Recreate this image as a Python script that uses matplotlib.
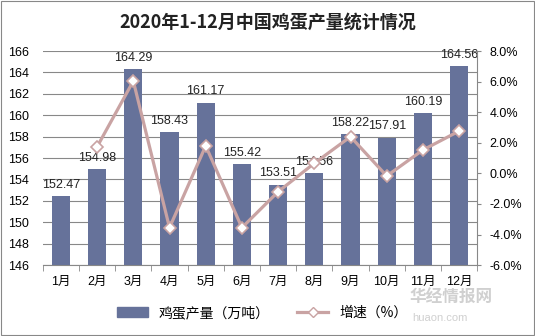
import numpy as np
import matplotlib.pyplot as plt
from matplotlib.lines import Line2D
from matplotlib.patches import Patch

plt.rcParams['font.family'] = ['Liberation Sans', 'Noto Sans CJK SC', 'DejaVu Sans']

months = ['1月', '2月', '3月', '4月', '5月', '6月', '7月', '8月', '9月', '10月', '11月', '12月']
output = [152.47, 154.98, 164.29, 158.43, 161.17, 155.42, 153.51, 154.56, 158.22, 157.91, 160.19, 164.56]
growth = [np.nan, 1.74, 6.04, -3.55, 1.8, -3.55, -1.2, 0.66, 2.4, -0.17, 1.53, 2.77]

bar_color = '#66729a'
line_color = '#c9a3a3'

fig = plt.figure(figsize=(5.35, 3.36), dpi=100)
fig.patches.append(plt.Rectangle((0.002, 0.003), 0.996, 0.994, transform=fig.transFigure,
                                 fill=False, edgecolor='#888888', linewidth=0.8))
ax = fig.add_axes([0.080, 0.211, 0.812, 0.637])
x = np.arange(len(months))

ax.bar(x, output, width=0.5, color=bar_color, zorder=2)
ax.set_ylim(146, 166)
ax.set_yticks(np.arange(146, 167, 2))
ax.set_xlim(-0.5, 11.5)
ax.grid(axis='y', color='#888888', linewidth=0.8, zorder=0)
ax.set_xticks(x)
ax.set_xticklabels(months, fontsize=9)
ax.set_xticks(np.arange(-0.5, 12, 1), minor=True)
ax.tick_params(axis='x', which='major', length=0, pad=8)
ax.tick_params(axis='x', which='minor', length=4, color='#888888')
ax.tick_params(axis='y', length=0, labelsize=9, pad=10)
for s in ['top', 'left', 'right']:
    ax.spines[s].set_visible(False)
ax.spines['bottom'].set_color('#888888')

for xi, v in zip(x, output):
    ax.text(xi, v + 0.5, f'{v:.2f}', ha='center', va='bottom', fontsize=9, color='#222222', zorder=5)

ax2 = ax.twinx()
ax2.plot(x, growth, color=line_color, linewidth=2.3, marker='D', markersize=6,
         markerfacecolor='white', markeredgecolor=line_color, markeredgewidth=1.2, zorder=4)
ax2.set_ylim(-6, 8)
ax2.set_yticks(np.arange(-6, 8.1, 2))
ax2.set_yticklabels([f'{v:.1f}%' for v in np.arange(-6, 8.1, 2)], fontsize=9)
ax2.tick_params(axis='y', length=3, color='#888888', pad=6)
for s in ['top', 'left', 'bottom']:
    ax2.spines[s].set_visible(False)
ax2.spines['right'].set_color('#888888')

fig.text(0.5, 0.935, '2020年1-12月中国鸡蛋产量统计情况', ha='center', va='center',
         fontsize=13, fontweight='bold', family=['Noto Sans CJK SC', 'DejaVu Sans'], color='#222222')

handles = [Patch(color=bar_color),
           Line2D([0], [0], color=line_color, linewidth=2.3, marker='D', markersize=5,
                  markerfacecolor='white', markeredgecolor=line_color)]
fig.legend(handles, ['鸡蛋产量（万吨）', '增速（%）'], loc='center', bbox_to_anchor=(0.49, 0.068),
           ncol=2, frameon=False, handlelength=2.2, columnspacing=2.0,
           prop={'family': ['Noto Sans CJK SC', 'DejaVu Sans'], 'size': 10})

# watermark
fig.text(0.765, 0.098, '华经情报网', fontsize=12, fontweight='bold', color='#d0d0d0',
         family=['Noto Sans CJK SC'])
fig.text(0.77, 0.045, 'huaon.com', fontsize=8, color='#d0d0d0')

fig.savefig('out.png', dpi=100)
